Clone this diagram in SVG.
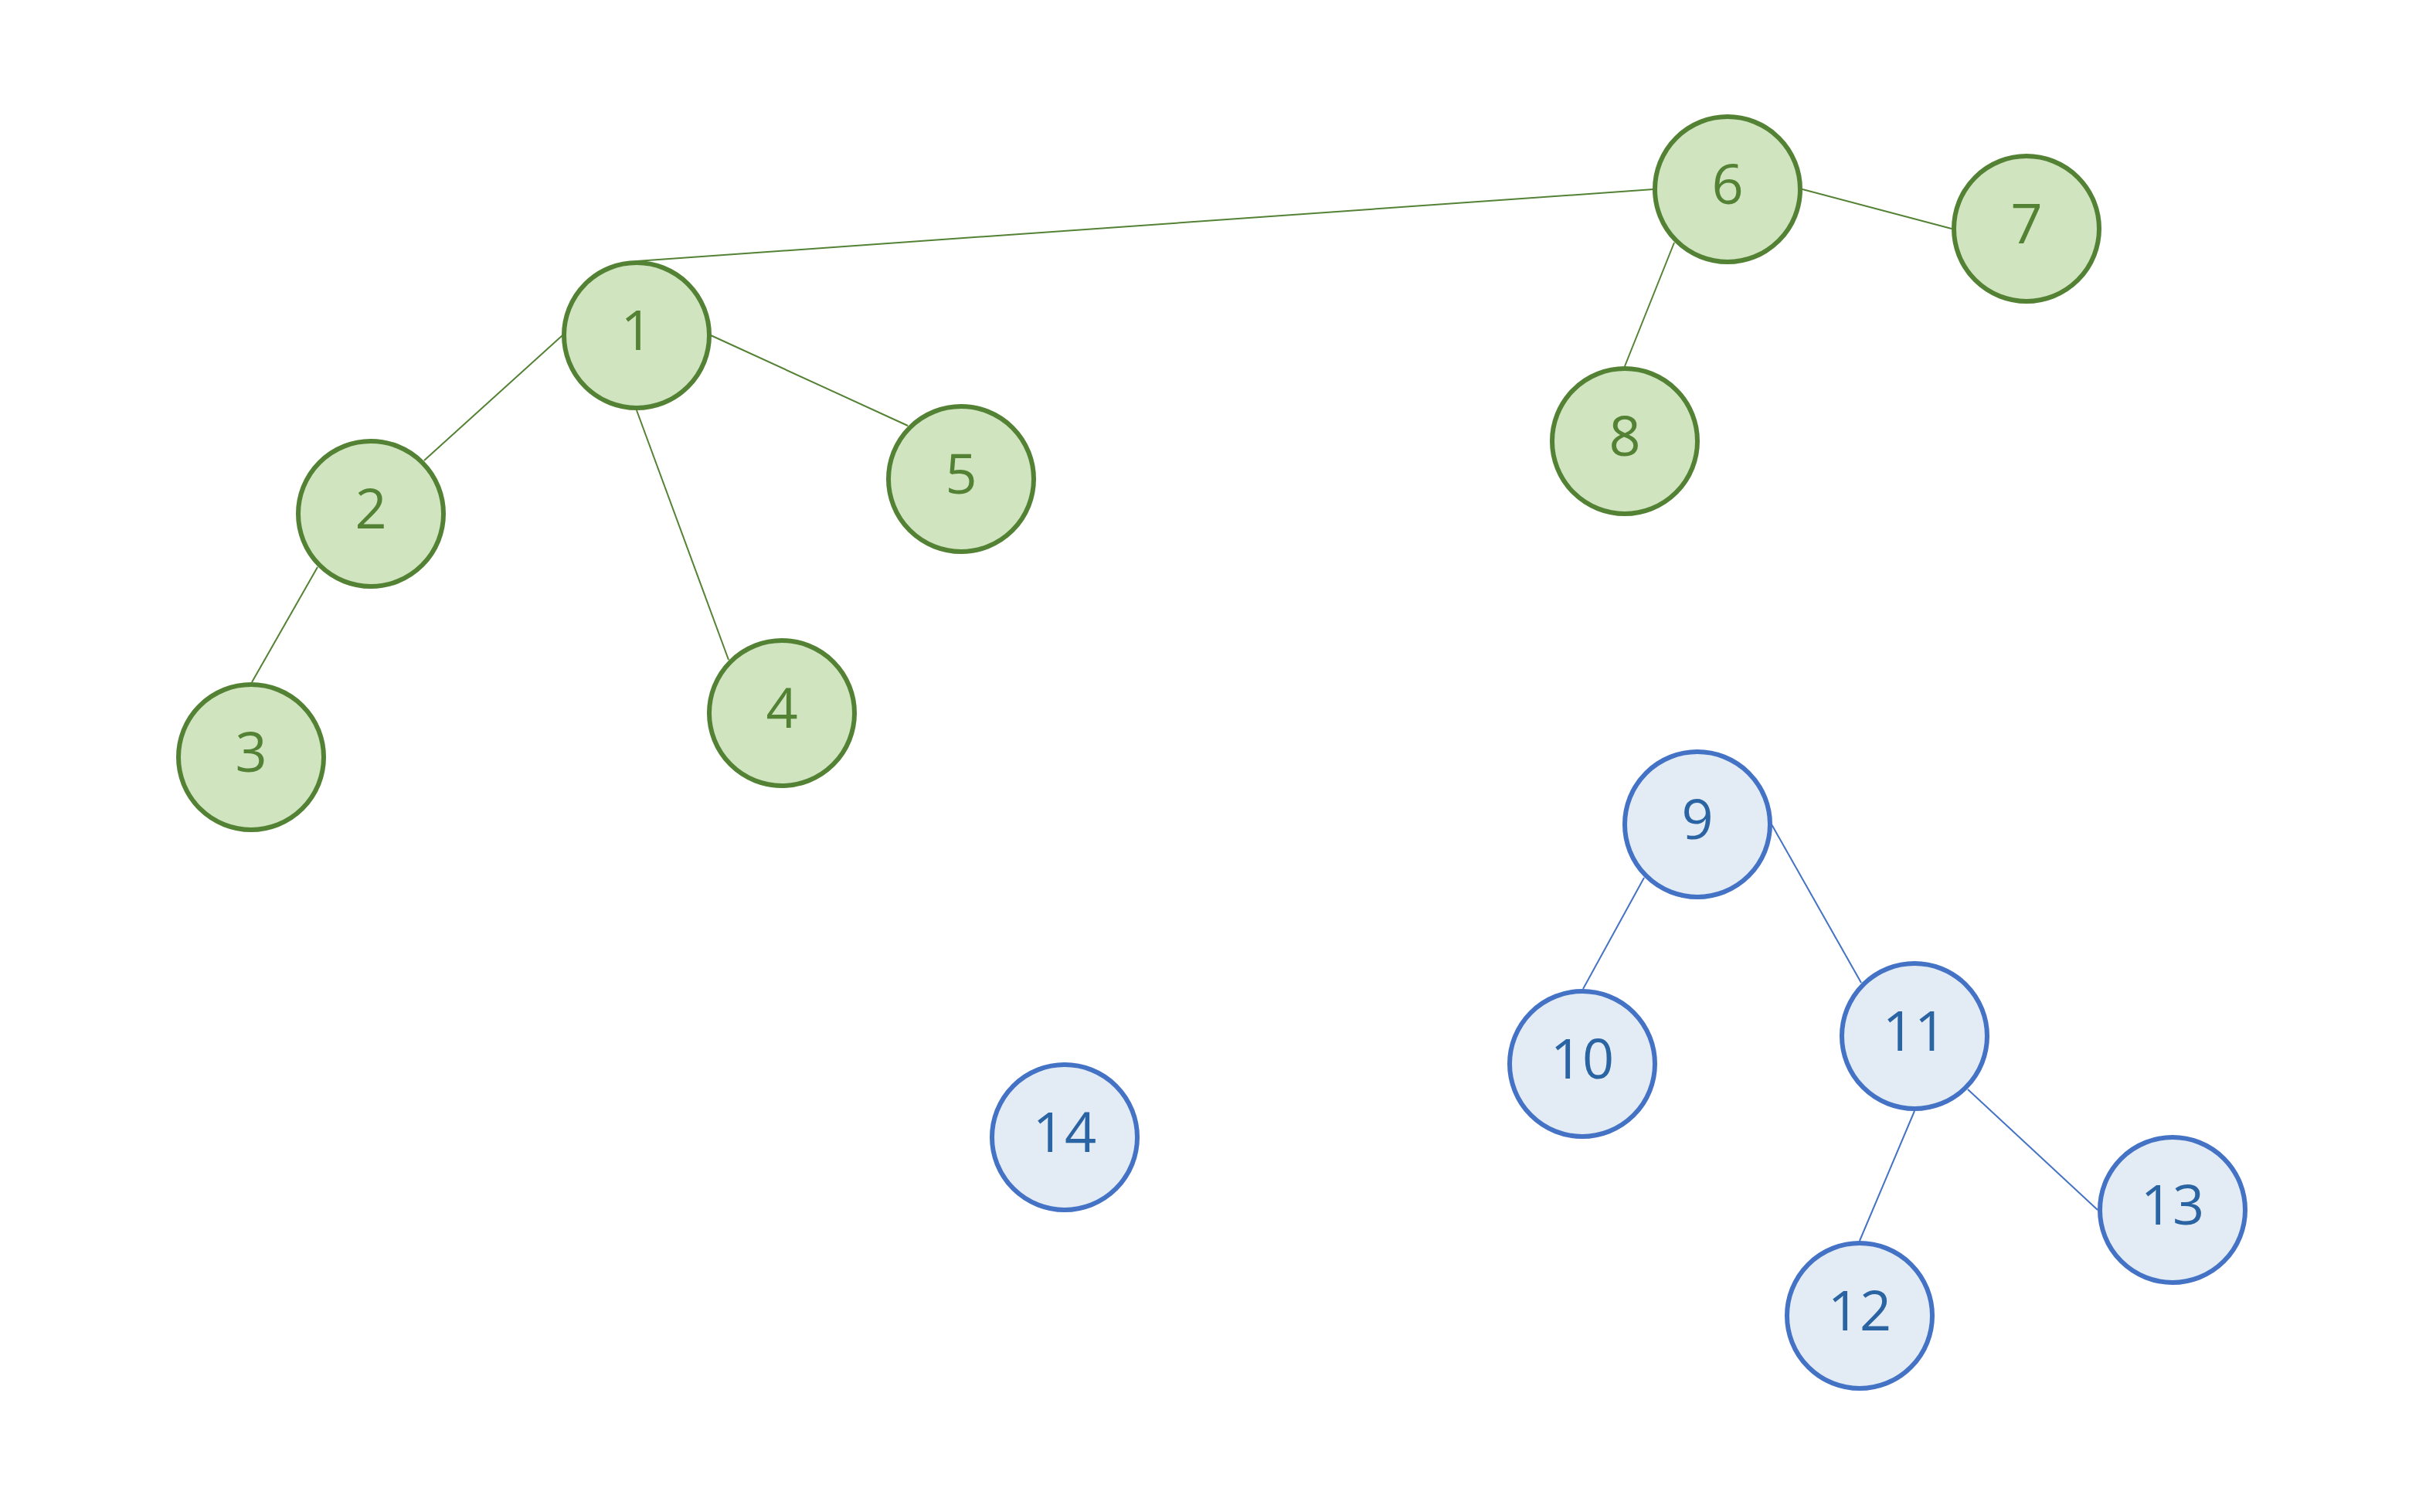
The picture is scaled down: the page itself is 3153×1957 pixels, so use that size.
<svg xmlns="http://www.w3.org/2000/svg" width="3153" height="1957" viewBox="0 0 3153 1957">
<style>
.g circle{fill:#D0E4C0;stroke:#548235;stroke-width:6}
.b circle{fill:#E3ECF5;stroke:#4472C4;stroke-width:6}
text{font-family:"Open Sans","Noto Sans",sans-serif;font-size:72px;text-anchor:middle}
.g text{fill:#548235}
.b text{fill:#2B64A3}
.eg{stroke:#548235;stroke-width:2;fill:none}
.eb{stroke:#4472C4;stroke-width:2;fill:none}
</style>
<rect width="3153" height="1957" fill="#ffffff"/>
<g id="connectors">
<line class="eg" x1="824" y1="338" x2="2140" y2="245"/>
<line class="eg" x1="728" y1="434" x2="549" y2="596"/>
<line class="eg" x1="411" y1="734" x2="326" y2="883"/>
<line class="eg" x1="824" y1="531" x2="943" y2="854"/>
<line class="eg" x1="920" y1="434" x2="1175" y2="551"/>
<line class="eg" x1="2333" y1="245" x2="2526" y2="296"/>
<line class="eg" x1="2167" y1="314" x2="2103" y2="474"/>
<line class="eb" x1="2293" y1="1067" x2="2409" y2="1272"/>
<line class="eb" x1="2128" y1="1136" x2="2049" y2="1280"/>
<line class="eb" x1="2478" y1="1438" x2="2407" y2="1606"/>
<line class="eb" x1="2547" y1="1410" x2="2715" y2="1566"/>
</g>
<g id="n1" class="g"><circle cx="824" cy="434" r="94"/><text x="824" y="453">1</text></g>
<g id="n2" class="g"><circle cx="480" cy="665" r="94"/><text x="480" y="684">2</text></g>
<g id="n3" class="g"><circle cx="325" cy="980" r="94"/><text x="325" y="999">3</text></g>
<g id="n4" class="g"><circle cx="1012" cy="923" r="94"/><text x="1012" y="942">4</text></g>
<g id="n5" class="g"><circle cx="1244" cy="620" r="94"/><text x="1244" y="639">5</text></g>
<g id="n6" class="g"><circle cx="2236" cy="245" r="94"/><text x="2236" y="264">6</text></g>
<g id="n7" class="g"><circle cx="2623" cy="296" r="94"/><text x="2623" y="315">7</text></g>
<g id="n8" class="g"><circle cx="2103" cy="571" r="94"/><text x="2103" y="590">8</text></g>
<g id="n9" class="b"><circle cx="2197" cy="1067" r="94"/><text x="2197" y="1086">9</text></g>
<g id="n10" class="b"><circle cx="2048" cy="1377" r="94"/><text x="2048" y="1396">10</text></g>
<g id="n11" class="b"><circle cx="2478" cy="1341" r="94"/><text x="2478" y="1360">11</text></g>
<g id="n12" class="b"><circle cx="2407" cy="1703" r="94"/><text x="2407" y="1722">12</text></g>
<g id="n13" class="b"><circle cx="2812" cy="1566" r="94"/><text x="2812" y="1585">13</text></g>
<g id="n14" class="b"><circle cx="1378" cy="1472" r="94"/><text x="1378" y="1491">14</text></g>
</svg>
